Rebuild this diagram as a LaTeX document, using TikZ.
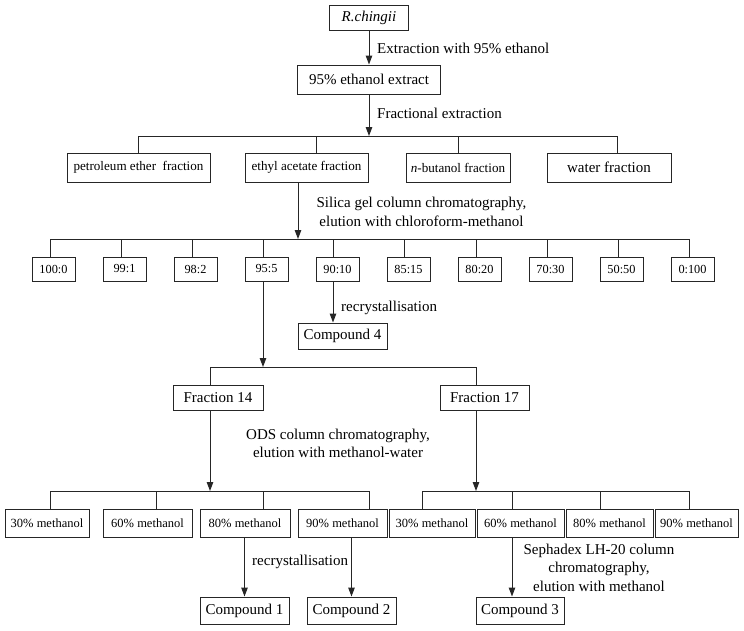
\documentclass[tikz,border=0pt]{standalone}
\usepackage{fontspec}
\setmainfont{Liberation Serif}
\usetikzlibrary{arrows.meta,calc}
\begin{document}
\begin{tikzpicture}[x=1pt,y=-1pt,
  ln/.style={line width=1pt,draw=black!85},
  arr/.style={ln,-{Triangle[width=6.5pt,length=9pt]}},
  bx/.style 2 args={draw=black!85,line width=1pt,inner sep=0pt,minimum width=#1pt,minimum height=#2pt,font=\fontsize{15}{18}\selectfont},
  mid/.style={font=\fontsize{13.1}{16}\selectfont},
  sm/.style={font=\fontsize{12.3}{15}\selectfont},
  ms/.style={font=\fontsize{12.5}{15}\selectfont},
  lbl/.style={inner sep=0pt,align=center,font=\fontsize{15}{18.5}\selectfont}
]
\fill[white] (0,0) rectangle (744,630);
\useasboundingbox (0,0) rectangle (744,630);

% top
\node[bx={79}{25}] (rch) at (369,17.5) {\textit{R.chingii}};
\node[bx={143}{29}] (ext) at (369,79.5) {95\% ethanol extract};
\draw[arr] (rch) -- (ext);
\node[lbl,anchor=west] (l1) at (377,48) {Extraction with 95\% ethanol};

\coordinate (j0) at (369,136);
\draw[arr] (ext.south -| j0) -- (j0);
\node[lbl,anchor=west] (l2) at (377,113) {Fractional extraction};

\node[bx={143}{29},mid] (pet) at (138.5,167.5) {petroleum ether\ \ fraction};
\node[bx={123}{29},mid] (eth) at (306.5,167.5) {ethyl acetate fraction};
\node[bx={104}{29},mid] (but) at (458,167.5) {\textit{n}-butanol fraction};
\node[bx={124}{29}] (wat) at (609,167.5) {water fraction};
\coordinate (jp) at (138,136);
\coordinate (je) at (316,136);
\coordinate (jb) at (458,136);
\coordinate (jw) at (617,136);
\draw[ln] (jp) -- (jw);
\foreach \j/\n in {jp/pet,je/eth,jb/but,jw/wat} \draw[ln] (\j) -- (\j |- \n.north);

% silica gel
\coordinate (j1) at (298,239);
\draw[arr] (eth.south -| j1) -- (j1);
\node[lbl] (l3) at (421.5,212) {Silica gel column chromatography,\\elution with chloroform-methanol};

\foreach \i/\cx/\dx/\t in {1/53.5/50/100:0,2/124.5/121/99:1,3/195.5/192/98:2,4/266.5/263/95:5,5/337.5/333/90:10,6/408.5/404/85:15,7/479.5/476/80:20,8/550.5/547/70:30,9/621.5/618/50:50,10/692.5/689/0:100}{
  \node[bx={43}{24},sm] (r\i) at (\cx,269) {\t};
  \coordinate (d\i) at (\dx,239);
  \draw[ln] (d\i) -- (d\i |- r\i.north);
}
\draw[ln] (d1) -- (d10);

% compound 4
\node[bx={89}{26}] (c4) at (342.5,336) {Compound 4};
\draw[arr] (r5.south -| d5) -- (d5 |- c4.north);
\node[lbl,anchor=west] (l4) at (341,308) {recrystallisation};

% fractions 14 / 17
\coordinate (j2) at (263,367);
\draw[arr] (r4.south -| j2) -- (j2);
\node[bx={90}{25}] (f14) at (218,397.5) {Fraction 14};
\node[bx={89}{25}] (f17) at (484.5,397.5) {Fraction 17};
\coordinate (e1) at (210,367);
\coordinate (e2) at (476,367);
\draw[ln] (e1) -- (e2);
\draw[ln] (e1) -- (e1 |- f14.north);
\draw[ln] (e2) -- (e2 |- f17.north);
\node[lbl] (l5) at (338,443.5) {ODS column chromatography,\\elution with methanol-water};

% ODS fractions
\coordinate (j3) at (210,491);
\coordinate (j4) at (476,491);
\draw[arr] (f14.south -| j3) -- (j3);
\draw[arr] (f17.south -| j4) -- (j4);

\foreach \i/\cx/\w/\dx/\t in {1/47/84/50/30,2/147.5/89/156/60,3/245/90/263/80,4/342.5/89/369/90}{
  \node[bx={\w}{28},ms] (a\i) at (\cx,523) {\t\% methanol};
  \coordinate (ga\i) at (\dx,491);
  \draw[ln] (ga\i) -- (ga\i |- a\i.north);
}
\draw[ln] (ga1) -- (ga4);
\foreach \i/\cx/\w/\dx/\t in {1/432/86/422/30,2/520.5/87/512/60,3/609.5/87/600/80,4/696.5/83/689/90}{
  \node[bx={\w}{28},ms] (b\i) at (\cx,523) {\t\% methanol};
  \coordinate (gb\i) at (\dx,491);
  \draw[ln] (gb\i) -- (gb\i |- b\i.north);
}
\draw[ln] (gb1) -- (gb4);

% compounds
\node[bx={89}{27}] (c1) at (244.5,610.5) {Compound 1};
\node[bx={89}{27}] (c2) at (351.5,610.5) {Compound 2};
\node[bx={88}{27}] (c3) at (520,610.5) {Compound 3};
\draw[arr] (a3.south -| c1) -- (c1.north);
\draw[arr] (a4.south -| c2) -- (c2.north);
\draw[arr] (b2.south -| gb2) -- (gb2 |- c3.north);
\node[lbl,anchor=west] (l6) at (252,562) {recrystallisation};
\node[lbl] (l7) at (599,567.5) {Sephadex LH-20 column\\chromatography,\\elution with methanol};
\end{tikzpicture}
\end{document}
